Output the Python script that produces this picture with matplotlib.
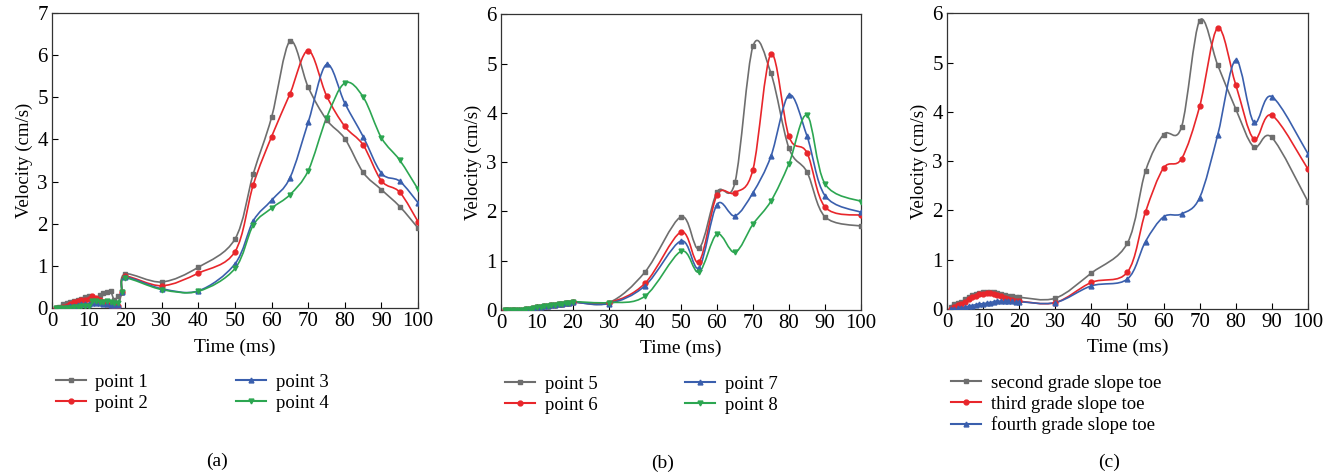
import numpy as np
import matplotlib
matplotlib.use("Agg")
import matplotlib.pyplot as plt
from matplotlib.path import Path
from matplotlib.patches import PathPatch

plt.rcParams['font.family'] = ['Liberation Serif', 'DejaVu Serif']

# ---------------- dados ----------------
t_early = list(range(1, 20))
t_late = [20, 30, 40, 50, 55, 60, 65, 70, 75, 80, 85, 90, 95, 100]

# (a) pontos 1-4
a_early_p1 = [0.0, 0.02, 0.10, 0.12, 0.14, 0.17, 0.20, 0.22, 0.26, 0.29, 0.25, 0.20, 0.30, 0.35, 0.38, 0.40, 0.20, 0.28, 0.38]
a_early_p2 = [0.0, 0.0, 0.03, 0.06, 0.10, 0.14, 0.17, 0.20, 0.20, 0.22, 0.28, 0.24, 0.20, 0.15, 0.10, 0.07, 0.05, 0.05, 0.38]
a_early_p3 = [0.0, 0.0, 0.0, 0.02, 0.04, 0.06, 0.08, 0.09, 0.10, 0.10, 0.12, 0.12, 0.12, 0.10, 0.10, 0.08, 0.08, 0.07, 0.38]
a_early_p4 = [0.0, 0.0, 0.0, 0.0, 0.0, 0.02, 0.03, 0.04, 0.05, 0.06, 0.18, 0.16, 0.15, 0.15, 0.18, 0.15, 0.13, 0.12, 0.38]
a_late_p1 = [0.81, 0.62, 0.97, 1.64, 3.19, 4.53, 6.33, 5.24, 4.47, 4.02, 3.22, 2.81, 2.41, 1.90]
a_late_p2 = [0.75, 0.53, 0.83, 1.34, 2.93, 4.07, 5.08, 6.11, 5.04, 4.31, 3.87, 3.02, 2.75, 2.05]
a_late_p3 = [0.73, 0.46, 0.41, 1.05, 2.07, 2.56, 3.09, 4.41, 5.78, 4.86, 4.07, 3.20, 3.01, 2.50]
a_late_p4 = [0.71, 0.44, 0.40, 0.94, 1.97, 2.37, 2.69, 3.26, 4.51, 5.34, 5.01, 4.04, 3.51, 2.82]

# (b) pontos 5-8
t_early_b = list(range(1, 20))
t_late_b = [20, 30, 40, 50, 55, 60, 65, 70, 75, 80, 85, 90, 100]
b_early = [0.0, 0.0, 0.0, 0.0, 0.01, 0.01, 0.02, 0.03, 0.05, 0.06, 0.07, 0.08, 0.09, 0.10, 0.11, 0.12, 0.13, 0.14, 0.15]
b_late_p5 = [0.17, 0.15, 0.77, 1.89, 1.25, 2.39, 2.59, 5.35, 4.80, 3.28, 2.80, 1.89, 1.70]
b_late_p6 = [0.16, 0.15, 0.54, 1.58, 0.98, 2.33, 2.38, 2.85, 5.19, 3.52, 3.19, 2.09, 1.92]
b_late_p7 = [0.16, 0.13, 0.49, 1.40, 0.86, 2.14, 1.91, 2.38, 3.12, 4.36, 3.53, 2.32, 1.98]
b_late_p8 = [0.17, 0.15, 0.28, 1.19, 0.77, 1.54, 1.17, 1.74, 2.21, 2.97, 3.95, 2.56, 2.20]

# (c) pés de talude
t_c = list(range(1, 21)) + [30, 40, 50, 55, 60, 65, 70, 75, 80, 85, 90, 100]
c_second = [0.05, 0.10, 0.12, 0.14, 0.20, 0.25, 0.29, 0.31, 0.33, 0.34, 0.35, 0.35, 0.34, 0.33, 0.31, 0.29, 0.27, 0.26, 0.25, 0.24,
            0.22, 0.73, 1.34, 2.80, 3.54, 3.70, 5.85, 4.95, 4.06, 3.29, 3.48, 2.18]
c_third = [0.0, 0.05, 0.08, 0.10, 0.15, 0.20, 0.24, 0.27, 0.30, 0.31, 0.32, 0.32, 0.31, 0.29, 0.26, 0.23, 0.20, 0.18, 0.17, 0.16,
           0.13, 0.54, 0.75, 1.97, 2.86, 3.05, 4.11, 5.70, 4.55, 3.45, 3.93, 2.84]
c_fourth = [0.0, 0.01, 0.02, 0.03, 0.04, 0.06, 0.07, 0.09, 0.10, 0.11, 0.12, 0.13, 0.15, 0.16, 0.16, 0.16, 0.16, 0.16, 0.15, 0.15,
            0.13, 0.47, 0.61, 1.37, 1.87, 1.93, 2.26, 3.53, 5.05, 3.79, 4.31, 3.15]

GRAY, RED, BLUE, GREEN = '#6e6e6e', '#e8262b', '#3a5fad', '#2ca651'
MARKERS = {GRAY: 's', RED: 'o', BLUE: '^', GREEN: 'v'}


def smooth_path(xs, ys):
    """Curva suave (Catmull-Rom -> Bezier) passando pelos pontos"""
    pts = np.column_stack([xs, ys]).astype(float)
    verts = [pts[0]]
    codes = [Path.MOVETO]
    n = len(pts)
    for i in range(n - 1):
        p0 = pts[i - 1] if i > 0 else pts[i]
        p1, p2 = pts[i], pts[i + 1]
        p3 = pts[i + 2] if i + 2 < n else pts[i + 1]
        c1 = p1 + (p2 - p0) / 6.0
        c2 = p2 - (p3 - p1) / 6.0
        verts += [c1, c2, p2]
        codes += [Path.CURVE4] * 3
    return Path(verts, codes)


def draw(ax, xs, ys, color, label):
    ax.add_patch(PathPatch(smooth_path(xs, ys), fill=False, edgecolor=color, lw=1.2, zorder=2))
    ax.plot(xs, ys, linestyle='none', marker=MARKERS[color], ms=3.5, color=color, zorder=3)
    ax.plot([], [], '-', marker=MARKERS[color], ms=3.5, color=color, lw=1.5, label=label)


fig = plt.figure(figsize=(13.33, 4.74), dpi=100)
pos = [(0.039, 0.350, 0.2746, 0.6225), (0.3758, 0.346, 0.2701, 0.624), (0.7104, 0.348, 0.2708, 0.624)]
axes = [fig.add_axes(p) for p in pos]

ax = axes[0]
draw(ax, t_early + t_late, a_early_p1 + a_late_p1, GRAY, 'point 1')
draw(ax, t_early + t_late, a_early_p2 + a_late_p2, RED, 'point 2')
draw(ax, t_early + t_late, a_early_p3 + a_late_p3, BLUE, 'point 3')
draw(ax, t_early + t_late, a_early_p4 + a_late_p4, GREEN, 'point 4')
ax.set_ylim(0, 7)

ax = axes[1]
draw(ax, t_early_b + t_late_b, b_early + b_late_p5, GRAY, 'point 5')
draw(ax, t_early_b + t_late_b, b_early + b_late_p6, RED, 'point 6')
draw(ax, t_early_b + t_late_b, b_early + b_late_p7, BLUE, 'point 7')
draw(ax, t_early_b + t_late_b, b_early + b_late_p8, GREEN, 'point 8')
ax.set_ylim(0, 6)

ax = axes[2]
draw(ax, t_c, c_second, GRAY, 'second grade slope toe')
draw(ax, t_c, c_third, RED, 'third grade slope toe')
draw(ax, t_c, c_fourth, BLUE, 'fourth grade slope toe')
ax.set_ylim(0, 6)

for ax, tag in zip(axes, ['(a)', '(b)', '(c)']):
    ax.set_xlim(0, 100)
    ax.set_xticks(range(0, 101, 10))
    ax.tick_params(direction='in', labelsize=15, length=4, width=0.8, pad=3)
    for s in ax.spines.values():
        s.set_linewidth(0.9)
        s.set_color('#333333')
    ax.set_xlabel('Time (ms)', fontsize=14, labelpad=5)
    ax.set_ylabel('Velocity (cm/s)', fontsize=13.5, labelpad=3)
    ncol = 1 if tag == '(c)' else 2
    ax.legend(loc='upper left', bbox_to_anchor=(-0.035, -0.165), ncol=ncol, frameon=False,
              fontsize=13.5, handlelength=1.6, handletextpad=0.5, columnspacing=4.7,
              labelspacing=0.2)
    ax.text(0.45, -0.49, tag, transform=ax.transAxes, ha='center', va='top', fontsize=14)

plt.savefig('out.png', dpi=100)
